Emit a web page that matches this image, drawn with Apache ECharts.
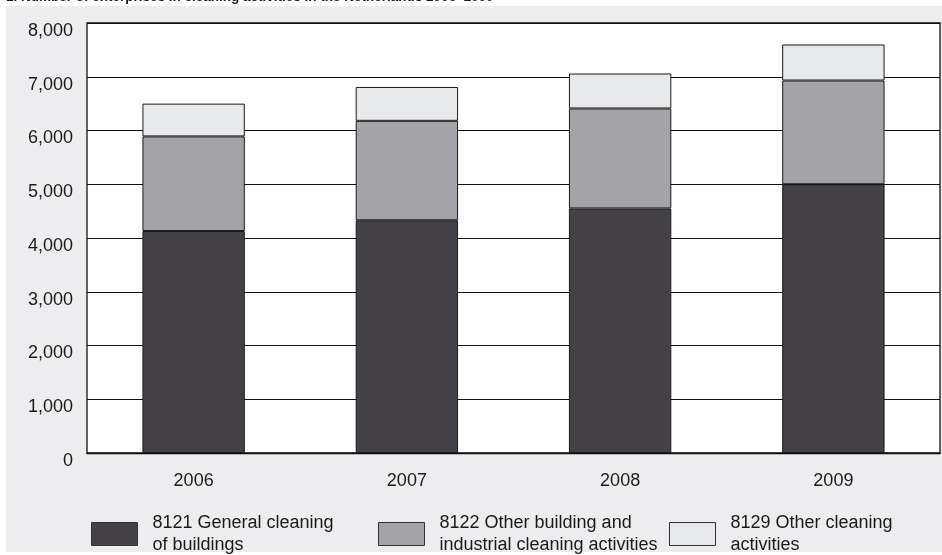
<!DOCTYPE html>
<html>
<head>
<meta charset="utf-8">
<style>
  html, body { margin: 0; padding: 0; background: #ffffff; }
  #chart { width: 942px; height: 555px; }
</style>
<script src="https://cdn.jsdelivr.net/npm/echarts@6/dist/echarts.min.js"></script>
</head>
<body>
<div id="chart"></div>
<script>
const titleText = '1. Number of enterprises in cleaning activities in the Netherlands 2006\u20132009';
const years = ['2006', '2007', '2008', '2009'];
const seriesNames = [
  '8121 General cleaning\nof buildings',
  '8122 Other building and\nindustrial cleaning activities',
  '8129 Other cleaning\nactivities'
];
const generalCleaning = [4130, 4330, 4550, 5000];
const otherBuilding = [1760, 1850, 1860, 1930];
const otherCleaning = [610, 630, 650, 670];
const yTicks = { min: 0, max: 8000, interval: 1000 };

const colors = ['#444247', '#a4a3a7', '#e8e9eb'];
const font = 'Liberation Sans, Arial, Helvetica, sans-serif';
const textColor = '#1a1a1a';

const chart = echarts.init(document.getElementById('chart'), null, { renderer: 'canvas' });

const valuesList = [generalCleaning, otherBuilding, otherCleaning];
const legendLefts = [86, 373, 664];

const option = {
  backgroundColor: '#ffffff',
  animation: false,
  graphic: [
    {
      type: 'rect', z: -1, silent: true,
      shape: { x: 6, y: 6, width: 936, height: 546 },
      style: { fill: '#ededef' }
    },
    {
      type: 'text', z: 10, silent: true,
      left: 6, top: -10,
      style: {
        text: titleText,
        font: 'bold 13.5px ' + font,
        fill: textColor
      }
    }
  ],
  grid: {
    left: 87, right: 2, top: 23, bottom: 102,
    show: true,
    backgroundColor: '#ffffff',
    borderColor: '#111111',
    borderWidth: 1.3
  },
  xAxis: {
    type: 'category',
    data: years,
    axisLine: { show: true, lineStyle: { color: '#111111', width: 1.3 } },
    axisTick: { show: false },
    axisLabel: { color: textColor, fontFamily: font, fontSize: 18, margin: 19 }
  },
  yAxis: {
    type: 'value',
    min: yTicks.min, max: yTicks.max, interval: yTicks.interval,
    axisLine: { show: false },
    axisTick: { show: false },
    splitLine: { show: true, lineStyle: { color: '#111111', width: 1.2 } },
    axisLabel: {
      color: textColor, fontFamily: font, fontSize: 18, margin: 14,
      verticalAlign: 'top', lineHeight: 16,
      formatter: v => v.toLocaleString('en-US')
    }
  },
  legend: seriesNames.map((name, i) => ({
    data: [name],
    left: legendLefts[i],
    top: 507,
    itemWidth: 46,
    itemHeight: 23,
    itemGap: 0,
    icon: 'rect',
    selectedMode: false,
    itemStyle: { borderColor: '#333333', borderWidth: 1 },
    textStyle: {
      color: textColor, fontFamily: font, fontSize: 18, lineHeight: 22,
      padding: [0, 0, 0, 10]
    }
  })),
  series: seriesNames.map((name, i) => ({
    name: name,
    type: 'bar',
    stack: 'total',
    data: valuesList[i],
    barWidth: '48%',
    itemStyle: { color: colors[i], borderColor: '#1a1a1a', borderWidth: 1 }
  }))
};

chart.setOption(option);
</script>
</body>
</html>
